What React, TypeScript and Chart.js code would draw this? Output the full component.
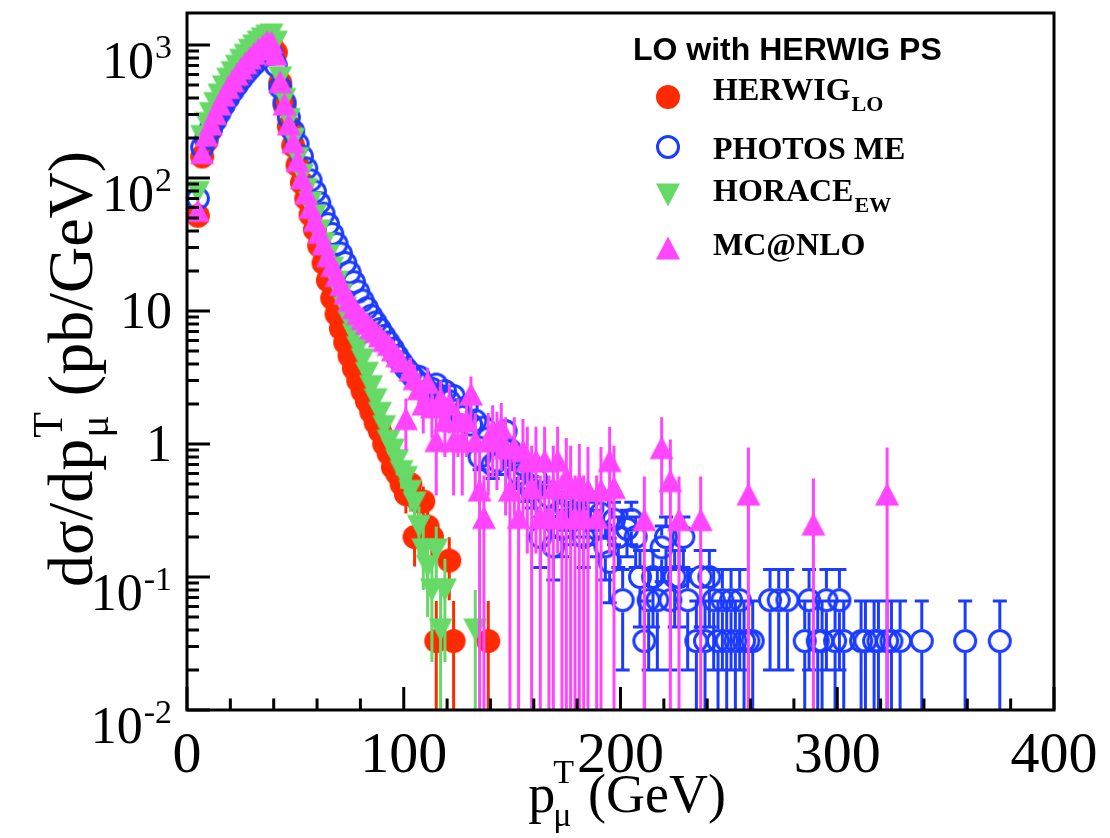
import React, { useEffect, useRef } from "react";
import { Chart, registerables } from "chart.js";

Chart.register(...registerables);

// ---------------- axis ranges and ticks ----------------
const X_MIN = 0;
const X_MAX = 400;
const Y_MIN = 0.01;
const Y_MAX = 1740;

const xTickValues = [0, 100, 200, 300, 400];
const xTickLabels = ["0", "100", "200", "300", "400"];
const xMinorStep = 20;
const yTickValues = [0.01, 0.1, 1, 10, 100, 1000];
const yTickBase = ["10", "10", "1", "10", "10", "10"];
const yTickExp = ["-2", "-1", "", "", "2", "3"];

// ---------------- texts ----------------
const legendTitle = "LO with HERWIG PS";
const seriesNames = ["HERWIG", "PHOTOS ME", "HORACE", "MC@NLO"];
const seriesSubs = ["LO", "", "EW", ""];
const xTitleParts = ["p", "T", "μ", "(GeV)"]; // main, superscript, subscript, rest
const yTitleParts = ["dσ/dp", "T", "μ", "(pb/GeV)"];

// ---------------- data ----------------
const denseBins = [5, 7, 9, 11, 13, 15, 17, 19, 21, 23, 25, 27, 29, 31, 33, 35, 37, 39, 41, 43, 45, 47, 49, 51, 53, 55, 57, 59, 61, 63, 65, 67, 69, 71, 73, 75, 77, 79, 81, 83, 85, 87, 89, 91, 93, 95, 97, 99];

// HERWIG_LO
const herwigX = [...denseBins, 101, 103, 105, 107, 109, 111, 113, 115, 121, 123, 139];
const herwigY = [
  52, 145, 190, 230, 275, 325, 380, 435, 495, 555,
  615, 680, 740, 800, 860, 915, 960, 990, 880, 520,
  355, 245, 175, 125, 92, 70, 53, 41, 31, 23,
  17, 12.5, 9.5, 7.4, 5.8, 4.6, 3.7, 3.0, 2.5, 2.1,
  1.75, 1.45, 1.25, 1.0, 0.85, 0.67, 0.6, 0.5, 0.42, 0.5,
  0.2, 0.37, 0.37, 0.24, 0.2,
  0.033, 0.133, 0.033, 0.033,
];
const herwigErr = [
  1.3, 2.2, 2.5, 2.8, 3.0, 3.3, 3.5, 3.8, 4.0, 4.3,
  4.5, 4.7, 4.9, 5.1, 5.3, 5.5, 5.6, 5.7, 5.4, 4.1,
  3.4, 2.8, 2.4, 2.0, 1.7, 1.5, 1.3, 1.2, 1.0, 0.87,
  0.75, 0.64, 0.56, 0.49, 0.44, 0.39, 0.35, 0.31, 0.29, 0.26,
  0.24, 0.22, 0.2, 0.18, 0.17, 0.15, 0.14, 0.13, 0.12, 0.13,
  0.08, 0.11, 0.11, 0.09, 0.08,
  0.033, 0.066, 0.033, 0.033,
];

// PHOTOS ME
const photosX = [
  ...denseBins,
  101, 103, 105, 107, 109, 111, 113, 115, 117, 119, 121, 123, 125, 127, 129, 131, 133, 135, 137, 139,
  141, 143, 145, 147, 149, 151, 153, 155, 157, 159, 161, 163, 165, 167, 169, 171, 173, 175, 177, 179,
  181, 183, 185, 187, 189, 191, 193, 195, 197, 199, 201, 203, 205, 207, 209, 211, 213, 215, 217, 219,
  221, 223, 225, 227, 229, 231,
  235, 237, 239, 241, 243, 245, 247, 249, 251, 253, 255, 257, 259, 261,
  269, 273, 277,
  285, 287, 291, 293, 295, 299, 301, 303,
  311, 313, 317, 319, 323, 325, 329,
  339, 359, 375,
];
const photosY = [
  70, 170, 200, 235, 270, 310, 355, 400, 450, 500,
  555, 610, 665, 720, 780, 830, 870, 860, 700, 480,
  370, 285, 225, 180, 145, 118, 96, 79, 65, 54,
  45, 38, 32, 27, 23, 19.5, 16.5, 14, 12, 10.5,
  9.2, 8.2, 7.3, 6.5, 5.8, 5.2, 4.6, 4.1,
  3.7, 3.4, 3.1, 3.2, 2.8, 2.5, 2.6, 2.8, 2.3, 2.5,
  2.1, 2.3, 1.8, 1.6, 1.9, 1.4, 1.5, 0.8, 1.33, 1.1,
  0.7, 0.75, 1.0, 1.25, 0.9, 0.8, 0.6, 0.7, 0.5, 0.45,
  0.55, 0.2, 0.35, 0.4, 0.17, 0.3, 0.23, 0.33, 0.27, 0.4,
  0.3, 0.2, 0.27, 0.33, 0.23, 0.3, 0.17, 0.13, 0.27, 0.2,
  0.067, 0.23, 0.27, 0.2, 0.1, 0.033, 0.067, 0.1, 0.067, 0.167,
  0.2, 0.067, 0.1, 0.1, 0.2, 0.067,
  0.033, 0.1, 0.033, 0.1, 0.067, 0.033, 0.067, 0.033, 0.067, 0.033, 0.067, 0.033, 0.033, 0.033,
  0.067, 0.067, 0.067,
  0.033, 0.067, 0.033, 0.033, 0.067, 0.033, 0.067, 0.033,
  0.033, 0.033, 0.033, 0.033, 0.033, 0.033, 0.033,
  0.033, 0.033, 0.033,
];
const photosErr = [
  1.5, 2.4, 2.6, 2.8, 3.0, 3.2, 3.4, 3.7, 3.9, 4.1,
  4.3, 4.5, 4.7, 4.9, 5.1, 5.3, 5.4, 5.4, 4.8, 4.0,
  3.5, 3.1, 2.7, 2.4, 2.2, 2.0, 1.8, 1.6, 1.5, 1.3,
  1.2, 1.1, 1.0, 0.95, 0.88, 0.8, 0.74, 0.68, 0.63, 0.59,
  0.55, 0.52, 0.49, 0.47, 0.44, 0.42, 0.39, 0.37,
  0.35, 0.34, 0.32, 0.33, 0.31, 0.29, 0.29, 0.31, 0.28, 0.29,
  0.26, 0.28, 0.24, 0.23, 0.25, 0.22, 0.22, 0.16, 0.21, 0.19,
  0.15, 0.16, 0.18, 0.2, 0.17, 0.16, 0.14, 0.15, 0.13, 0.12,
  0.135, 0.082, 0.11, 0.115, 0.075, 0.1, 0.088, 0.105, 0.095, 0.115,
  0.1, 0.082, 0.095, 0.105, 0.088, 0.1, 0.075, 0.066, 0.095, 0.082,
  0.047, 0.088, 0.095, 0.082, 0.058, 0.033, 0.047, 0.058, 0.047, 0.075,
  0.082, 0.047, 0.058, 0.058, 0.082, 0.047,
  0.033, 0.058, 0.033, 0.058, 0.047, 0.033, 0.047, 0.033, 0.047, 0.033, 0.047, 0.033, 0.033, 0.033,
  0.047, 0.047, 0.047,
  0.033, 0.047, 0.033, 0.033, 0.047, 0.033, 0.047, 0.033,
  0.033, 0.033, 0.033, 0.033, 0.033, 0.033, 0.033,
  0.033, 0.033, 0.033,
];

// HORACE_EW
const horaceX = [...denseBins, 101, 103, 105, 107, 109, 111, 113, 115, 117, 119, 133];
const horaceY = [
  78, 205, 257, 305, 363, 420, 484, 553, 620, 692,
  767, 837, 913, 983, 1050, 1110, 1165, 1190, 1050, 566,
  390, 275, 195, 140, 105, 82, 65, 52, 40, 32,
  26, 21, 16.5, 13.2, 10.5, 8.3, 6.6, 5.3, 4.3, 3.4,
  2.7, 2.15, 1.7, 1.35, 1.05, 0.9, 0.75, 0.62, 0.56, 0.44,
  0.36, 0.24, 0.16, 0.12, 0.08, 0.16, 0.04, 0.08,
  0.04,
];
const horaceErr = [
  1.77, 2.86, 3.2, 3.5, 3.8, 4.1, 4.4, 4.7, 5.0, 5.3,
  5.5, 5.8, 6.0, 6.3, 6.5, 6.7, 6.8, 6.9, 6.5, 4.8,
  3.9, 3.3, 2.8, 2.4, 2.0, 1.8, 1.6, 1.4, 1.26, 1.13,
  1.02, 0.92, 0.81, 0.73, 0.65, 0.58, 0.51, 0.46, 0.41, 0.37,
  0.33, 0.29, 0.26, 0.23, 0.2, 0.19, 0.17, 0.16, 0.15, 0.13,
  0.12, 0.1, 0.08, 0.07, 0.057, 0.08, 0.04, 0.057,
  0.04,
];

// MC@NLO
const mcnloX = [
  ...denseBins,
  101, 103, 105, 107, 109, 111, 113, 115, 117, 119, 121, 123, 125, 127, 129, 131, 133, 135, 137, 139,
  141, 143, 145, 147, 149, 151, 153, 155, 157, 159, 161, 163, 165, 167, 169, 171, 173, 175, 177, 179,
  181, 183, 185, 189, 191, 195, 197, 211, 219, 223, 227, 237, 259, 289, 323,
];
const mcnloY = [
  57, 155, 210, 255, 305, 360, 420, 480, 540, 605,
  670, 735, 800, 865, 930, 990, 1060, 1050, 850, 530,
  360, 255, 187, 135, 100, 77, 60, 48, 39, 32,
  26, 22, 18.5, 15.8, 13.6, 12, 10.6, 9.6, 8.8, 8.1,
  7.5, 7.0, 6.5, 6.0, 5.6, 5.1, 4.6, 4.2,
  1.55, 3.6, 3.1, 2.6, 2.0, 2.9, 1.9, 1.06, 2.2, 1.5,
  2.0, 1.06, 1.5, 1.06, 1.5, 2.37, 1.06, 0.45, 0.28, 1.06,
  1.26, 1.1, 1.33, 0.94, 0.45, 0.94, 0.28, 0.89, 0.75, 0.47,
  0.75, 0.28, 0.75, 0.28, 0.47, 0.75, 0.28, 0.56, 0.47, 0.28,
  0.5, 0.28, 0.45, 0.28, 0.45, 0.75, 0.47, 0.27, 0.94, 0.53,
  0.27, 0.27, 0.42, 0.25, 0.42,
];
const mcnloErr = [
  1.7, 2.8, 3.2, 3.6, 3.9, 4.2, 4.6, 4.9, 5.2, 5.5,
  5.8, 6.1, 6.4, 6.6, 6.9, 7.1, 7.3, 7.3, 6.6, 5.2,
  4.3, 3.6, 3.1, 2.6, 2.2, 2.0, 1.8, 1.6, 1.4, 1.3,
  1.2, 1.1, 1.0, 0.95, 0.9, 0.85, 0.8, 0.75, 0.72, 0.7,
  0.68, 0.65, 0.63, 0.62, 0.6, 0.58, 0.56, 0.55,
  0.65, 0.85, 0.85, 0.8, 0.8, 0.85, 0.8, 0.65, 0.8, 0.7,
  0.8, 0.65, 0.7, 0.65, 0.7, 0.85, 0.65, 0.5, 0.3, 0.65,
  0.7, 0.65, 0.7, 0.65, 0.5, 0.65, 0.3, 0.65, 0.6, 0.5,
  0.6, 0.3, 0.6, 0.3, 0.5, 0.6, 0.3, 0.55, 0.5, 0.3,
  0.5, 0.3, 0.5, 0.3, 0.5, 0.6, 0.5, 0.3, 0.65, 0.55,
  0.3, 0.3, 0.52, 0.3, 0.52,
];

// ---------------- styles ----------------
const RED = "#ff2b00";
const BLUE = "#1b3bff";
const GREEN = "#66d966";
const PINK = "#ff45ff";

const SERIF = "'Liberation Serif', 'Times New Roman', serif";
const SANS = "'Liberation Sans', Arial, sans-serif";

type Kind = "disc" | "ring" | "up" | "down";

function markerCanvas(kind: Kind, color: string): HTMLCanvasElement {
  const size = 28;
  const c = document.createElement("canvas");
  c.width = size;
  c.height = size;
  const g = c.getContext("2d")!;
  const m = size / 2;
  g.fillStyle = color;
  g.strokeStyle = color;
  g.beginPath();
  if (kind === "disc") {
    g.arc(m, m, 12, 0, Math.PI * 2);
    g.fill();
  } else if (kind === "ring") {
    g.lineWidth = 3;
    g.arc(m, m, 10.5, 0, Math.PI * 2);
    g.stroke();
  } else if (kind === "up") {
    g.moveTo(m, m - 11.5);
    g.lineTo(m + 12, m + 11.5);
    g.lineTo(m - 12, m + 11.5);
    g.closePath();
    g.fill();
  } else {
    g.moveTo(m - 12, m - 11.5);
    g.lineTo(m + 12, m - 11.5);
    g.lineTo(m, m + 11.5);
    g.closePath();
    g.fill();
  }
  return c;
}

interface SeriesDef {
  name: string;
  sub: string;
  x: number[];
  y: number[];
  err: number[];
  color: string;
  kind: Kind;
  caps: boolean;
  order: number;
  legendY: number;
  textBase: number;
}

const SERIES: SeriesDef[] = [
  { name: seriesNames[0], sub: seriesSubs[0], x: herwigX, y: herwigY, err: herwigErr, color: RED, kind: "disc", caps: false, order: 3, legendY: 97, textBase: 100 },
  { name: seriesNames[1], sub: seriesSubs[1], x: photosX, y: photosY, err: photosErr, color: BLUE, kind: "ring", caps: true, order: 2, legendY: 147, textBase: 159 },
  { name: seriesNames[2], sub: seriesSubs[2], x: horaceX, y: horaceY, err: horaceErr, color: GREEN, kind: "down", caps: false, order: 1, legendY: 195, textBase: 201 },
  { name: seriesNames[3], sub: seriesSubs[3], x: mcnloX, y: mcnloY, err: mcnloErr, color: PINK, kind: "up", caps: false, order: 0, legendY: 248, textBase: 255 },
];

const errorBarPlugin = {
  id: "errorBars",
  beforeDatasetDraw(chart: any, args: any) {
    const s = SERIES[args.index];
    if (!s) return;
    const { ctx, chartArea: a } = chart;
    const xs = chart.scales.x;
    const ys = chart.scales.y;
    ctx.save();
    ctx.beginPath();
    ctx.rect(a.left, a.top, a.right - a.left, a.bottom - a.top);
    ctx.clip();
    ctx.strokeStyle = s.color;
    ctx.lineWidth = 3;
    ctx.lineCap = "butt";
    const gap = s.kind === "ring" ? 12 : 0;
    const n = Math.min(s.x.length, s.y.length, s.err.length);
    ctx.beginPath();
    for (let i = 0; i < n; i++) {
      const v = s.y[i];
      const e = s.err[i];
      const px = xs.getPixelForValue(s.x[i]);
      const py = ys.getPixelForValue(v);
      const pyHi = ys.getPixelForValue(v + e);
      const lo = v - e;
      const loInRange = lo > Y_MIN * 0.999;
      const pyLo = lo > 0 ? ys.getPixelForValue(lo) : a.bottom + 4;
      if (pyHi < py - gap) {
        ctx.moveTo(px, pyHi);
        ctx.lineTo(px, py - gap);
        if (s.caps) {
          ctx.moveTo(px - 7, pyHi);
          ctx.lineTo(px + 7, pyHi);
        }
      }
      if (pyLo > py + gap) {
        ctx.moveTo(px, py + gap);
        ctx.lineTo(px, pyLo);
        if (s.caps && loInRange) {
          ctx.moveTo(px - 7, pyLo);
          ctx.lineTo(px + 7, pyLo);
        }
      }
    }
    ctx.stroke();
    ctx.restore();
  },
};

// draws  main + (superscript over subscript) + rest
function drawStackedText(
  ctx: CanvasRenderingContext2D,
  parts: string[],
  bigFont: string,
  smallFont: string,
  supDy: number,
  subDy: number,
  stackOffset: number,
  gap: number,
  anchorX: number,
  base: number,
  align: "center" | "right"
) {
  ctx.font = bigFont;
  const w0 = ctx.measureText(parts[0]).width;
  const w3 = ctx.measureText(parts[3]).width;
  ctx.font = smallFont;
  const ws = Math.max(ctx.measureText(parts[1]).width, ctx.measureText(parts[2]).width);
  const total = w0 + stackOffset + ws + gap + w3;
  let x = align === "center" ? anchorX - total / 2 : anchorX - total;
  ctx.textAlign = "left";
  ctx.textBaseline = "alphabetic";
  ctx.font = bigFont;
  ctx.fillText(parts[0], x, base);
  x += w0 + stackOffset;
  ctx.font = smallFont;
  ctx.fillText(parts[1], x, base + supDy);
  ctx.fillText(parts[2], x, base + subDy);
  x += ws + gap;
  ctx.font = bigFont;
  ctx.fillText(parts[3], x, base);
}

const decorationPlugin = {
  id: "decorations",
  afterDraw(chart: any) {
    const { ctx, chartArea: a } = chart;
    const xs = chart.scales.x;
    const ys = chart.scales.y;
    ctx.save();
    ctx.strokeStyle = "#000";
    ctx.fillStyle = "#000";
    ctx.lineWidth = 3;
    ctx.lineCap = "butt";
    ctx.strokeRect(a.left, a.top, a.right - a.left, a.bottom - a.top);

    // ticks
    ctx.beginPath();
    for (let v = X_MIN; v <= X_MAX; v += xMinorStep) {
      const px = xs.getPixelForValue(v);
      const len = xTickValues.includes(v) ? 23 : 11.5;
      ctx.moveTo(px, a.bottom);
      ctx.lineTo(px, a.bottom - len);
    }
    for (let d = -2; d <= 3; d++) {
      for (let m = 1; m <= 9; m++) {
        const v = m * Math.pow(10, d);
        if (v < Y_MIN * 0.999 || v > Y_MAX) continue;
        const py = ys.getPixelForValue(v);
        const len = m === 1 ? 23 : 12;
        ctx.moveTo(a.left, py);
        ctx.lineTo(a.left + len, py);
      }
    }
    ctx.stroke();

    // x tick labels
    ctx.font = `58px ${SERIF}`;
    ctx.textAlign = "center";
    ctx.textBaseline = "alphabetic";
    xTickValues.forEach((v, i) => {
      ctx.fillText(xTickLabels[i], xs.getPixelForValue(v), a.bottom + 62);
    });

    // y tick labels
    const yFont = `52px ${SERIF}`;
    const eFont = `34px ${SERIF}`;
    const right = a.left - 15;
    ctx.textAlign = "left";
    yTickValues.forEach((v, i) => {
      const py = ys.getPixelForValue(v);
      const b = yTickBase[i];
      const e = yTickExp[i];
      ctx.font = yFont;
      const wb = ctx.measureText(b).width;
      if (e) {
        ctx.font = eFont;
        const we = ctx.measureText(e).width;
        const x0 = right - we - wb - 1;
        ctx.font = yFont;
        ctx.fillText(b, x0, py + 33);
        ctx.font = eFont;
        ctx.fillText(e, x0 + wb + 1, py + 13);
      } else {
        ctx.fillText(b, right - wb, py + 17);
      }
    });

    // axis titles
    drawStackedText(ctx, xTitleParts, `54px ${SERIF}`, `34px ${SERIF}`, -29, 14, -2, 14, 726, 812, "right");
    ctx.save();
    ctx.translate(92, 369);
    ctx.rotate(-Math.PI / 2);
    drawStackedText(ctx, yTitleParts, `64px ${SERIF}`, `42px ${SERIF}`, -30, 16, 1, 16, 0, 0, "center");
    ctx.restore();

    // legend
    ctx.textAlign = "left";
    ctx.textBaseline = "alphabetic";
    ctx.font = `bold 32px ${SANS}`;
    ctx.fillText(legendTitle, 633, 60);
    SERIES.forEach((s) => {
      const mk = markerCanvas(s.kind, s.color);
      ctx.drawImage(mk, 668 - mk.width / 2, s.legendY - mk.height / 2);
      ctx.font = `bold 32px ${SERIF}`;
      ctx.fillText(s.name, 713, s.textBase);
      if (s.sub) {
        const w = ctx.measureText(s.name).width;
        ctx.font = `bold 22px ${SERIF}`;
        ctx.fillText(s.sub, 713 + w + 1, s.textBase + 11);
      }
    });
    ctx.restore();
  },
};

export default function App() {
  const ref = useRef<HTMLCanvasElement>(null);
  useEffect(() => {
    const canvas = ref.current;
    if (!canvas) return;
    const datasets = SERIES.map((s) => {
      const n = Math.min(s.x.length, s.y.length);
      const pts = [] as { x: number; y: number }[];
      for (let i = 0; i < n; i++) pts.push({ x: s.x[i], y: s.y[i] });
      return {
        label: s.name,
        data: pts,
        pointStyle: markerCanvas(s.kind, s.color),
        pointRadius: 12,
        pointHoverRadius: 12,
        borderColor: s.color,
        backgroundColor: s.color,
        showLine: false,
        order: s.order,
        clip: { left: 20, top: 20, right: 20, bottom: 0 },
      } as any;
    });
    const chart = new Chart(canvas, {
      type: "scatter",
      data: { datasets },
      options: {
        responsive: false,
        animation: false,
        events: [],
        layout: { padding: { left: 187, top: 11, right: 56, bottom: 128 } },
        scales: {
          x: { type: "linear", min: X_MIN, max: X_MAX, display: false },
          y: { type: "logarithmic", min: Y_MIN, max: Y_MAX, display: false },
        },
        plugins: {
          legend: { display: false },
          tooltip: { enabled: false },
        },
      } as any,
      plugins: [errorBarPlugin, decorationPlugin],
    });
    return () => chart.destroy();
  }, []);
  return (
    <canvas
      ref={ref}
      width={1110}
      height={838}
      style={{ position: "fixed", left: 0, top: 0, display: "block", background: "#fff" }}
    />
  );
}
